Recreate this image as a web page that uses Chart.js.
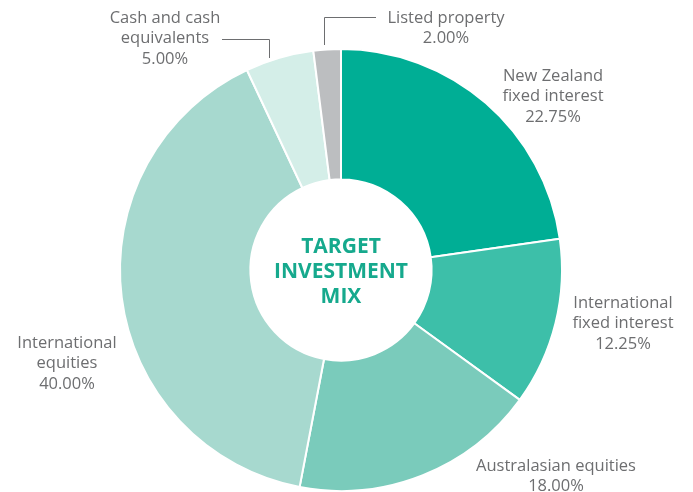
<!DOCTYPE html>
<html>
<head>
<meta charset="utf-8">
<script src="https://cdn.jsdelivr.net/npm/chart.js@4/dist/chart.umd.min.js"></script>
<style>
  html, body { margin: 0; padding: 0; background: #fff; }
  #wrap { width: 693px; height: 492px; }
</style>
</head>
<body>
<div id="wrap"><canvas id="myChart"></canvas></div>
<script>
var labels = ['New Zealand fixed interest', 'International fixed interest', 'Australasian equities', 'International equities', 'Cash and cash equivalents', 'Listed property'];
var values = [22.75, 12.25, 18.00, 40.00, 5.00, 2.00];
var colours = ['#00ae95', '#3dbfa9', '#7acbbb', '#a7d9cf', '#d4eee8', '#bcbec0'];

// label text lines (without the percentage) and where each block sits, relative to the doughnut centre
var labelLines = [
  ['New Zealand', 'fixed interest'],
  ['International', 'fixed interest'],
  ['Australasian equities'],
  ['International', 'equities'],
  ['Cash and cash', 'equivalents'],
  ['Listed property']
];
var labelPos = [
  [212, -194], [282, 33], [215, 196], [-274, 73], [-176, -252], [105, -252]
];

var labelPlugin = {
  id: 'labels',
  afterDraw: function (chart) {
    var c = chart.ctx;
    var arc = chart.getDatasetMeta(0).data[0];
    var cx = arc.x, cy = arc.y;
    c.save();
    c.textAlign = 'center';
    c.textBaseline = 'middle';
    c.fillStyle = '#6d6e70';
    c.font = '16.5px "Open Sans"';
    for (var i = 0; i < labelLines.length; i++) {
      var lines = labelLines[i].concat([values[i].toFixed(2) + '%']);
      var x = cx + labelPos[i][0], y = cy + labelPos[i][1];
      for (var j = 0; j < lines.length; j++) {
        c.fillText(lines[j], x, y + j * 20.5);
      }
    }
    // leader lines
    c.strokeStyle = '#6d6e70';
    c.lineWidth = 1;
    c.beginPath();
    c.moveTo(cx - 119, cy - 230.5);
    c.lineTo(cx - 71.5, cy - 230.5);
    c.lineTo(cx - 71.5, cy - 212);
    c.moveTo(cx + 35, cy - 252.5);
    c.lineTo(cx - 16.5, cy - 252.5);
    c.lineTo(cx - 16.5, cy - 225);
    c.stroke();
    // centre title
    c.fillStyle = '#16a98d';
    c.font = 'bold 21px "Open Sans"';
    c.fillText('TARGET', cx, cy - 23);
    c.fillText('INVESTMENT', cx, cy + 2);
    c.fillText('MIX', cx, cy + 27);
    c.restore();
  }
};

var ctx = document.getElementById('myChart');
var myDoughnutChart = new Chart(ctx, {
  type: 'doughnut',
  data: {
    labels: labels,
    datasets: [{
      data: values,
      backgroundColor: colours,
      borderColor: '#ffffff',
      borderWidth: 2
    }]
  },
  options: {
    responsive: true,
    maintainAspectRatio: false,
    animation: false,
    cutout: '41%',
    layout: { padding: { top: 48, bottom: 0, left: 0, right: 11 } },
    plugins: {
      legend: { display: false },
      tooltip: { enabled: false }
    }
  },
  plugins: [labelPlugin]
});
</script>
</body>
</html>
